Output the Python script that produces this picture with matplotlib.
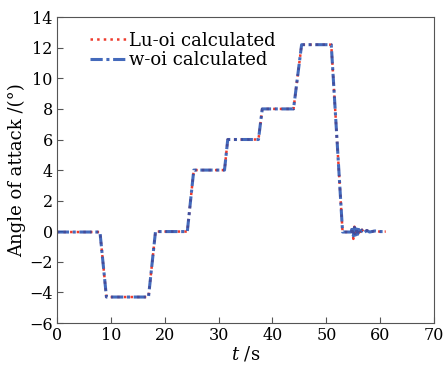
import matplotlib
matplotlib.use("Agg")
import matplotlib.pyplot as plt

# breakpoints of the commanded profile
t_steps = [0, 8.0, 9.2, 17.0, 18.3, 24.2, 25.4, 31.1, 31.7, 37.4, 38.1,
           43.9, 45.4, 50.9, 53.0]
a_steps = [-0.05, -0.05, -4.3, -4.3, -0.02, -0.02, 4.0, 4.0, 6.0, 6.0, 8.0,
           8.0, 12.2, 12.2, -0.05]

# tail with the small oscillation after the last step
t_tail_lu = [53.8, 54.6, 54.8, 55.0, 55.2, 55.4, 55.6, 55.8, 56.0, 56.3,
             56.6, 57.0, 57.5, 58.0, 59.0, 60.0, 61.0]
a_tail_lu = [-0.05, -0.1, 0.2, -0.5, 0.3, -0.3, 0.2, -0.25, 0.15, -0.15,
             0.1, -0.1, 0.06, -0.06, 0.03, -0.03, -0.02]
t_tail_w = [53.8, 54.6, 54.8, 55.0, 55.2, 55.4, 55.6, 55.8, 56.0, 56.3,
            56.6, 57.0, 57.5, 58.0, 59.0, 60.0, 61.0]
a_tail_w = [-0.05, -0.05, 0.3, -0.3, 0.25, -0.25, 0.15, -0.2, 0.12, -0.12,
            0.08, -0.08, 0.05, -0.05, 0.02, -0.02, -0.02]

plt.rcParams["font.family"] = "DejaVu Serif"
plt.rcParams["mathtext.fontset"] = "dejavuserif"

fig = plt.figure(figsize=(4.44, 3.65), dpi=100)
ax = fig.add_axes([0.128, 0.115, 0.85, 0.838])

ax.plot(t_steps + t_tail_lu, a_steps + a_tail_lu, color="#ee3a2c",
        linestyle=":", linewidth=1.8, label="Lu-oi calculated")
ax.plot(t_steps + t_tail_w, a_steps + a_tail_w, color="#2350b0",
        linestyle=(0, (4, 1.2, 1, 1.2)), linewidth=2.2, alpha=0.85,
        label="w-oi calculated")

ax.set_xlim(0, 70)
ax.set_ylim(-6, 14)
ax.set_xticks(range(0, 71, 10))
ax.set_yticks(range(-6, 15, 2))
ax.tick_params(direction="in", labelsize=11.5, length=4, pad=3,
               color="#555555")
for s in ax.spines.values():
    s.set_color("#555555")
ax.set_xlabel(r"$t$ /s", fontsize=13, labelpad=0)
ax.set_ylabel("Angle of attack /(°)", fontsize=13, labelpad=2)
ax.legend(loc="upper left", frameon=False, fontsize=13, handlelength=2.1,
          handletextpad=0.05, labelspacing=0.1, borderaxespad=0.4,
          bbox_to_anchor=(0.05, 1.0))

fig.savefig("out.png", dpi=100)
